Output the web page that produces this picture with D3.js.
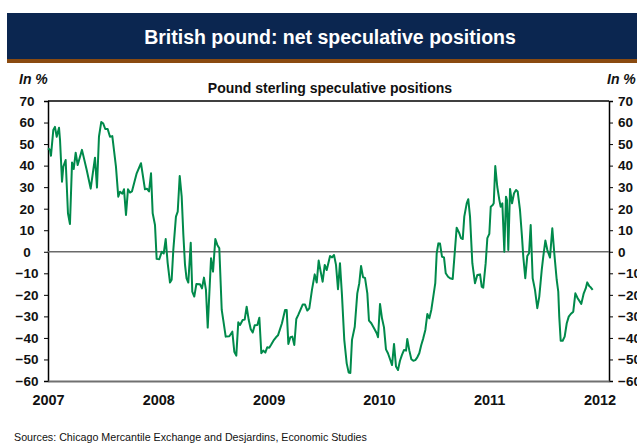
<!DOCTYPE html>
<html>
<head>
<meta charset="utf-8">
<script src="https://cdn.jsdelivr.net/npm/d3@7"></script>
<style>
  html, body { margin: 0; padding: 0; background: #fff; }
  svg { display: block; font-family: Arial, "Liberation Sans", Helvetica, sans-serif; }
</style>
</head>
<body>
<svg id="chart" width="637" height="444"></svg>
<script>
// ---- Data (decimal year, net speculative position in %) ----
const dates = [
  2007.000,2007.018,2007.027,2007.048,2007.063,2007.079,2007.100,2007.109,2007.127,2007.139,
  2007.160,2007.181,2007.199,2007.218,2007.233,2007.251,2007.269,2007.308,2007.351,2007.387,
  2007.426,2007.444,2007.462,2007.483,2007.501,2007.519,2007.541,2007.562,2007.583,2007.616,
  2007.637,2007.653,2007.674,2007.689,2007.707,2007.725,2007.743,2007.761,2007.804,2007.843,
  2007.879,2007.897,2007.916,2007.934,2007.949,2007.970,2007.985,2008.009,2008.031,2008.049,
  2008.067,2008.085,2008.106,2008.121,2008.136,2008.160,2008.176,2008.194,2008.212,
  2008.227,2008.242,2008.256,2008.272,2008.294,2008.308,2008.326,2008.345,2008.378,2008.396,
  2008.414,2008.432,2008.448,2008.478,2008.496,2008.517,2008.535,2008.553,2008.575,2008.589,
  2008.611,2008.644,2008.671,2008.689,2008.707,2008.725,2008.741,2008.765,2008.783,2008.801,
  2008.820,2008.838,2008.856,2008.874,2008.898,2008.916,2008.934,2008.952,2008.970,2008.988,
  2009.006,2009.024,2009.049,2009.067,2009.085,2009.121,2009.149,2009.164,2009.179,2009.197,
  2009.215,2009.233,2009.251,2009.269,2009.309,2009.330,2009.351,2009.369,2009.393,2009.418,
  2009.436,2009.454,2009.472,2009.490,2009.509,2009.527,2009.557,2009.575,2009.593,2009.611,
  2009.629,2009.647,2009.665,2009.686,2009.708,2009.726,2009.741,2009.756,2009.781,2009.804,
  2009.822,2009.838,2009.856,2009.874,2009.895,2009.910,2009.931,2009.956,2009.980,2009.992,
  2010.010,2010.028,2010.046,2010.064,2010.082,2010.101,2010.119,2010.137,2010.155,2010.173,
  2010.191,2010.209,2010.228,2010.246,2010.257,2010.276,2010.294,2010.312,2010.330,2010.348,
  2010.366,2010.384,2010.402,2010.421,2010.439,2010.457,2010.475,2010.493,2010.511,2010.524,
  2010.539,2010.554,2010.572,2010.590,2010.606,2010.627,2010.645,2010.669,2010.705,2010.729,
  2010.744,2010.760,2010.774,2010.796,2010.810,2010.826,2010.847,2010.871,2010.892,2010.917,
  2010.932,2010.946,2010.968,2010.983,2011.001,2011.014,2011.032,2011.041,2011.055,2011.073,
  2011.092,2011.104,2011.119,2011.137,2011.152,2011.161,2011.173,2011.189,2011.207,2011.225,
  2011.243,2011.258,2011.279,2011.297,2011.309,2011.327,2011.345,2011.361,2011.376,2011.394,
  2011.415,2011.436,2011.454,2011.476,2011.490,2011.509,2011.527,2011.551,2011.572,2011.590,
  2011.612,2011.626,2011.635,2011.648,2011.666,2011.684,2011.703,2011.721,2011.739,2011.762,
  2011.781,2011.802,2011.835,2011.857,2011.875,2011.889,2011.908,2011.920,2011.938
];
const positions = [
  48,47.3,44.6,56.5,58,53.4,57.6,51.9,32.5,39.5,
  42.6,17.9,12.9,41.5,38.4,46,40.3,47.3,38,29.3,
  43.7,29.8,53.4,60.3,59.5,57,57,53.4,53.7,39.5,
  25.6,27.9,27,29,17.1,29,27.5,28,36.4,41.1,
  29,29.3,28,36.4,17.9,12.4,-3.3,-3.5,0,-0.8,
  5.9,-5.3,-14.3,-13,0.8,16.3,18.6,35.2,25.6,
  8,-6,-12.3,-14.3,4.2,-18.5,-20.8,-15,-15.1,-17,
  -12,-17.7,-35.2,-3,-9.2,5.9,3.2,1.6,-27,-31.7,
  -39.4,-39.2,-37.1,-46.4,-48.2,-32.7,-34,-31.7,-31.5,-25.5,
  -31.7,-36,-37.5,-34.1,-34,-30.6,-47.1,-45.9,-46.8,-44.3,
  -44.6,-43.1,-40.9,-39.7,-38.8,-33.2,-27,-27,-42.8,-39.7,
  -39.4,-43.3,-31.2,-29.3,-24.5,-24.5,-27.3,-26.3,-17.7,-10.5,
  -14.3,-4.1,-9.2,-13.9,-6.1,-8.5,-2,-2.6,-1.5,-6.1,
  -17.4,-5.3,-20,-40.9,-51.8,-56.1,-56.3,-40.9,-34.8,-19.3,
  -14.6,-6.6,-11.8,-12.1,-19.3,-32,-33.2,-35.5,-37.8,-39.7,
  -24.2,-30.9,-35.1,-45.3,-47.1,-49.9,-52.6,-42.8,-53.3,-54.9,
  -50.6,-47.9,-45.6,-45.9,-40.5,-45.9,-49.9,-50.6,-50.3,-49,
  -47.1,-43.3,-40.2,-36.3,-28.9,-30.9,-27,-20.8,-14.6,-0.7,
  3.9,3.8,-2.3,-2.6,-10,-11.6,-12.3,-12.6,11.2,8.6,
  6.3,5.9,16.3,22.5,24.4,16.3,-5.3,-14.6,-10.8,-10.5,
  -16.2,-16.7,-5.3,6.3,8.3,20.9,21.7,22.5,39.8,30.2,
  24,20.9,22.5,0,25.6,24,0.8,29.2,22.5,27.2,
  28.7,28,19.4,7,-2.3,-12.3,-2,-0.7,12.4,-12.3,
  -17.7,-26.2,-20.8,-8.5,-2.3,5.2,0.8,-2.7,10.9,-0.7,
  -13.1,-18.5,-30.1,-41.3,-41.3,-39.4,-33.2,-30.1,-28.9,-27.8,
  -19.3,-21.6,-24.2,-19.3,-17,-14.2,-16,-16.5,-17.7
];
const yTicks = [70,60,50,40,30,20,10,0,-10,-20,-30,-40,-50,-60];
const yearTicks = [2007,2008,2009,2010,2011,2012];

const titleText = "British pound: net speculative positions";
const subtitleText = "Pound sterling speculative positions";
const unitText = "In %";
const sourceText = "Sources: Chicago Mercantile Exchange and Desjardins, Economic Studies";

// ---- Layout ----
const svg = d3.select("#chart");
const W = 637, H = 444;
const plot = { left: 48, right: 609, top: 101, bottom: 381 };

const x = d3.scaleLinear().domain([2007, 2012.086]).range([plot.left, plot.right]);
const y = d3.scaleLinear().domain([-60, 70]).range([plot.bottom, plot.top]);

// Title bar
svg.append("rect").attr("x", 7).attr("y", 13).attr("width", W - 7).attr("height", 46).attr("fill", "#0b2650");
svg.append("rect").attr("x", 7).attr("y", 59).attr("width", W - 7).attr("height", 4).attr("fill", "#8a4a10");
svg.append("text").attr("x", 330).attr("y", 44).attr("text-anchor", "middle")
  .attr("fill", "#fff").attr("font-weight", "bold").attr("font-size", 19.5).text(titleText);

// Unit labels and subtitle
svg.append("text").attr("x", 19).attr("y", 84).attr("font-style", "italic").attr("font-weight", "bold")
  .attr("font-size", 14).attr("fill", "#111").text(unitText);
svg.append("text").attr("x", 607).attr("y", 84).attr("font-style", "italic").attr("font-weight", "bold")
  .attr("font-size", 14).attr("fill", "#111").text(unitText);
svg.append("text").attr("x", 330).attr("y", 93).attr("text-anchor", "middle").attr("font-weight", "bold")
  .attr("font-size", 14).attr("fill", "#111").text(subtitleText);

// Left axis
const gL = svg.append("g").attr("transform", `translate(${plot.left},0)`)
  .call(d3.axisLeft(y).tickValues(yTicks).tickSize(4).tickPadding(0).tickFormat(d3.format("d")));
gL.select(".domain").attr("stroke", "#000").attr("stroke-width", 1.5);
gL.selectAll(".tick line").attr("stroke", "#000");
gL.selectAll(".tick text").attr("x", 27 - plot.left).attr("text-anchor", "middle")
  .attr("font-size", 13.5).attr("font-weight", "bold").attr("fill", "#111").attr("font-family", "Arial, 'Liberation Sans', sans-serif");

// Right axis
const gR = svg.append("g").attr("transform", `translate(${plot.right},0)`)
  .call(d3.axisRight(y).tickValues(yTicks).tickSize(4).tickPadding(0).tickFormat(d3.format("d")));
gR.select(".domain").attr("stroke", "#000").attr("stroke-width", 1.5);
gR.selectAll(".tick line").attr("stroke", "#000");
gR.selectAll(".tick text").attr("x", 618 - plot.right).attr("text-anchor", "start")
  .attr("font-size", 13.5).attr("font-weight", "bold").attr("fill", "#111").attr("font-family", "Arial, 'Liberation Sans', sans-serif");

// Top border
svg.append("line").attr("x1", plot.left).attr("x2", plot.right).attr("y1", y(70)).attr("y2", y(70))
  .attr("stroke", "#000").attr("stroke-width", 1.5);

// Bottom axis (years)
const gB = svg.append("g").attr("transform", `translate(0,${plot.bottom})`)
  .call(d3.axisBottom(x).tickValues(yearTicks).tickSize(0).tickPadding(0).tickFormat(d3.format("d")));
gB.select(".domain").attr("stroke", "#707070").attr("stroke-width", 2);
gB.selectAll(".tick text").attr("y", 24).attr("dy", 0).attr("font-size", 14.5).attr("font-weight", "bold")
  .attr("fill", "#111").attr("font-family", "Arial, 'Liberation Sans', sans-serif");

// Zero line
svg.append("line").attr("x1", plot.left).attr("x2", plot.right).attr("y1", y(0)).attr("y2", y(0))
  .attr("stroke", "#6a6a6a").attr("stroke-width", 1.5);

// Series line
const data = dates.map((d, i) => ({ t: d, v: positions[i] }));
svg.append("path").datum(data)
  .attr("fill", "none").attr("stroke", "#008a4b").attr("stroke-width", 2).attr("stroke-linejoin", "round")
  .attr("d", d3.line().x(d => x(d.t)).y(d => y(d.v)));

// Source
svg.append("text").attr("x", 14).attr("y", 441).attr("font-size", 10.7).attr("fill", "#111").text(sourceText);
</script>
</body>
</html>
